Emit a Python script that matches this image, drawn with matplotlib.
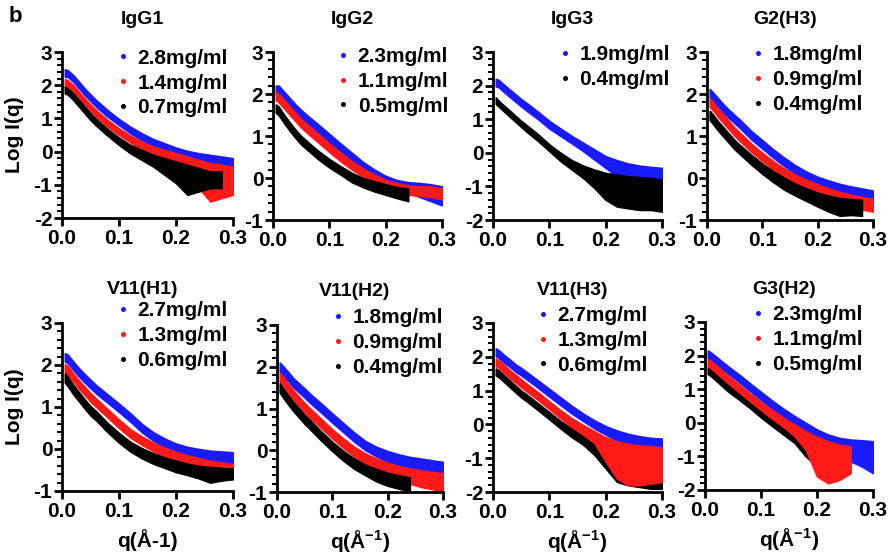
import numpy as np
import matplotlib
matplotlib.use('Agg')
import matplotlib.pyplot as plt
from matplotlib.ticker import MultipleLocator, AutoMinorLocator, FormatStrFormatter
from matplotlib.lines import Line2D

plt.rcParams['font.family'] = 'Liberation Sans'
plt.rcParams['font.weight'] = 'bold'
plt.rcParams['axes.unicode_minus'] = False
plt.rcParams['mathtext.fontset'] = 'custom'
plt.rcParams['mathtext.rm'] = 'Liberation Sans:bold'
plt.rcParams['mathtext.it'] = 'Liberation Sans:bold'
plt.rcParams['mathtext.bf'] = 'Liberation Sans:bold'

q = [0.005, 0.01, 0.02, 0.03, 0.04, 0.05, 0.06, 0.08, 0.10, 0.12,
     0.14, 0.16, 0.18, 0.20, 0.22, 0.24, 0.26, 0.28, 0.30]
nan = np.nan

titles = ['IgG1', 'IgG2', 'IgG3', 'G2(H3)', 'V11(H1)', 'V11(H2)', 'V11(H3)', 'G3(H2)']
conc_labels = [
    ['2.8mg/ml', '1.4mg/ml', '0.7mg/ml'],
    ['2.3mg/ml', '1.1mg/ml', '0.5mg/ml'],
    ['1.9mg/ml', '0.4mg/ml'],
    ['1.8mg/ml', '0.9mg/ml', '0.4mg/ml'],
    ['2.7mg/ml', '1.3mg/ml', '0.6mg/ml'],
    ['1.8mg/ml', '0.9mg/ml', '0.4mg/ml'],
    ['2.7mg/ml', '1.3mg/ml', '0.6mg/ml'],
    ['2.3mg/ml', '1.1mg/ml', '0.5mg/ml'],
]
y_bottoms = [-2, -1, -2, -1, -1, -1, -2, -2]

# log I(q): upper / lower edges of the dense part of each noisy trace
igg1_blue_hi = [2.48, 2.45, 2.3, 2.1, 1.9, 1.72, 1.55, 1.25, 0.98, 0.75, 0.55, 0.38, 0.25, 0.12, 0.02, -0.05, -0.1, -0.15, -0.2]
igg1_blue_lo = [2.25, 2.25, 2.1, 1.9, 1.7, 1.52, 1.35, 1.05, 0.8, 0.55, 0.35, 0.15, 0.0, -0.15, -0.3, -0.5, -0.7, -0.9, -1.1]
igg1_red_hi = [2.18, 2.15, 2.0, 1.8, 1.6, 1.42, 1.25, 0.95, 0.7, 0.48, 0.3, 0.15, 0.05, -0.05, -0.15, -0.25, -0.35, -0.4, -0.45]
igg1_red_lo = [1.95, 1.95, 1.8, 1.6, 1.4, 1.22, 1.05, 0.75, 0.5, 0.28, 0.05, -0.15, -0.35, -0.55, -0.8, -1.1, -1.5, -1.4, -1.3]
igg1_black_hi = [1.95, 1.9, 1.75, 1.55, 1.35, 1.15, 0.98, 0.68, 0.42, 0.2, 0.05, -0.1, -0.2, -0.3, -0.4, -0.5, -0.6, -0.6, nan]
igg1_black_lo = [1.75, 1.72, 1.55, 1.35, 1.15, 0.95, 0.78, 0.48, 0.2, -0.05, -0.25, -0.45, -0.7, -0.95, -1.3, -1.2, -1.1, -1.1, nan]

igg2_blue_hi = [2.2, 2.2, 2.05, 1.9, 1.75, 1.62, 1.5, 1.28, 1.05, 0.82, 0.6, 0.38, 0.2, 0.05, -0.05, -0.1, -0.12, -0.15, -0.2]
igg2_blue_lo = [2.0, 2.0, 1.85, 1.7, 1.55, 1.42, 1.3, 1.08, 0.85, 0.62, 0.4, 0.2, 0.02, -0.12, -0.25, -0.35, -0.45, -0.55, -0.65]
igg2_red_hi = [2.05, 2.0, 1.85, 1.7, 1.55, 1.4, 1.28, 1.05, 0.82, 0.6, 0.4, 0.22, 0.08, -0.05, -0.12, -0.18, -0.2, -0.2, -0.25]
igg2_red_lo = [1.85, 1.8, 1.65, 1.5, 1.35, 1.2, 1.08, 0.85, 0.62, 0.4, 0.2, 0.03, -0.12, -0.25, -0.33, -0.4, -0.42, -0.45, -0.5]
igg2_black_hi = [1.75, 1.7, 1.5, 1.32, 1.15, 1.0, 0.88, 0.65, 0.45, 0.28, 0.12, 0.0, -0.08, -0.15, -0.22, -0.25, nan, nan, nan]
igg2_black_lo = [1.55, 1.5, 1.3, 1.12, 0.95, 0.8, 0.68, 0.45, 0.25, 0.08, -0.1, -0.22, -0.32, -0.4, -0.48, -0.55, nan, nan, nan]

igg3_blue_hi = [2.2, 2.17, 2.02, 1.88, 1.74, 1.6, 1.48, 1.22, 0.95, 0.72, 0.5, 0.3, 0.1, -0.1, -0.22, -0.32, -0.38, -0.42, -0.45]
igg3_blue_lo = [1.98, 1.95, 1.8, 1.66, 1.52, 1.38, 1.25, 1.0, 0.72, 0.5, 0.28, 0.05, -0.2, -0.45, -0.7, -0.9, -1.05, -1.15, -1.25]
igg3_black_hi = [1.65, 1.55, 1.4, 1.25, 1.1, 0.95, 0.82, 0.55, 0.25, 0.0, -0.22, -0.38, -0.5, -0.6, -0.65, -0.7, -0.72, -0.75, -0.8]
igg3_black_lo = [1.45, 1.38, 1.22, 1.07, 0.92, 0.77, 0.62, 0.35, 0.05, -0.25, -0.5, -0.75, -1.05, -1.4, -1.6, -1.65, -1.7, -1.7, -1.75]

g2h3_blue_hi = [2.12, 2.05, 1.9, 1.75, 1.62, 1.5, 1.38, 1.12, 0.9, 0.68, 0.48, 0.3, 0.15, 0.03, -0.06, -0.14, -0.2, -0.25, -0.3]
g2h3_blue_lo = [1.92, 1.85, 1.7, 1.55, 1.42, 1.3, 1.18, 0.92, 0.7, 0.48, 0.28, 0.1, -0.05, -0.17, -0.28, -0.38, -0.45, -0.5, -0.58]
g2h3_red_hi = [1.9, 1.82, 1.65, 1.5, 1.35, 1.2, 1.07, 0.82, 0.6, 0.4, 0.22, 0.08, -0.05, -0.15, -0.25, -0.33, -0.4, -0.45, -0.5]
g2h3_red_lo = [1.7, 1.62, 1.45, 1.3, 1.15, 1.0, 0.87, 0.62, 0.4, 0.2, 0.02, -0.12, -0.25, -0.37, -0.48, -0.58, -0.68, -0.75, -0.8]
g2h3_black_hi = [1.6, 1.52, 1.35, 1.2, 1.05, 0.9, 0.78, 0.55, 0.34, 0.16, 0.0, -0.14, -0.25, -0.35, -0.42, -0.48, -0.5, -0.52, nan]
g2h3_black_lo = [1.38, 1.3, 1.13, 0.98, 0.83, 0.68, 0.56, 0.32, 0.1, -0.1, -0.28, -0.42, -0.55, -0.68, -0.8, -0.9, -0.88, -0.9, nan]

v11h1_blue_hi = [2.28, 2.25, 2.08, 1.92, 1.78, 1.65, 1.52, 1.3, 1.08, 0.85, 0.6, 0.4, 0.25, 0.13, 0.05, 0.0, -0.04, -0.06, -0.08]
v11h1_blue_lo = [2.08, 2.05, 1.88, 1.72, 1.58, 1.45, 1.32, 1.1, 0.88, 0.65, 0.4, 0.2, 0.05, -0.08, -0.17, -0.25, -0.3, -0.35, -0.42]
v11h1_red_hi = [2.02, 1.98, 1.8, 1.63, 1.48, 1.33, 1.2, 0.95, 0.7, 0.47, 0.3, 0.15, 0.03, -0.07, -0.15, -0.22, -0.28, -0.32, -0.36]
v11h1_red_lo = [1.82, 1.78, 1.6, 1.43, 1.28, 1.13, 1.0, 0.75, 0.5, 0.27, 0.1, -0.05, -0.17, -0.28, -0.38, -0.45, -0.55, -0.58, -0.62]
v11h1_black_hi = [1.8, 1.72, 1.52, 1.35, 1.18, 1.02, 0.9, 0.62, 0.38, 0.17, 0.02, -0.1, -0.2, -0.28, -0.35, -0.4, -0.43, -0.45, -0.47]
v11h1_black_lo = [1.58, 1.5, 1.3, 1.13, 0.96, 0.8, 0.68, 0.4, 0.15, -0.06, -0.22, -0.35, -0.45, -0.55, -0.62, -0.7, -0.8, -0.75, -0.72]

v11h2_blue_hi = [2.1, 2.03, 1.88, 1.72, 1.6, 1.48, 1.35, 1.12, 0.88, 0.65, 0.42, 0.22, 0.08, -0.02, -0.1, -0.16, -0.2, -0.24, -0.28]
v11h2_blue_lo = [1.88, 1.82, 1.66, 1.5, 1.38, 1.26, 1.13, 0.9, 0.66, 0.43, 0.2, 0.0, -0.15, -0.28, -0.38, -0.48, -0.58, -0.65, -0.78]
v11h2_red_hi = [1.85, 1.78, 1.6, 1.43, 1.28, 1.13, 1.0, 0.75, 0.5, 0.28, 0.08, -0.08, -0.2, -0.3, -0.38, -0.44, -0.48, -0.52, -0.55]
v11h2_red_lo = [1.62, 1.55, 1.38, 1.21, 1.06, 0.91, 0.78, 0.53, 0.28, 0.05, -0.15, -0.32, -0.45, -0.58, -0.7, -0.8, -0.88, -0.93, -0.98]
v11h2_black_hi = [1.6, 1.5, 1.32, 1.15, 1.0, 0.85, 0.72, 0.45, 0.2, -0.02, -0.2, -0.35, -0.45, -0.54, -0.6, -0.65, nan, nan, nan]
v11h2_black_lo = [1.38, 1.28, 1.1, 0.93, 0.78, 0.63, 0.5, 0.23, -0.02, -0.25, -0.45, -0.6, -0.75, -0.85, -0.92, -0.98, nan, nan, nan]

v11h3_blue_hi = [2.25, 2.2, 2.05, 1.92, 1.78, 1.67, 1.55, 1.3, 1.05, 0.8, 0.55, 0.32, 0.12, -0.05, -0.18, -0.28, -0.35, -0.4, -0.42]
v11h3_blue_lo = [2.02, 1.97, 1.82, 1.7, 1.56, 1.45, 1.33, 1.08, 0.82, 0.57, 0.32, 0.1, -0.12, -0.3, -0.48, -0.62, -0.75, -0.85, -0.9]
v11h3_red_hi = [1.95, 1.9, 1.75, 1.6, 1.47, 1.33, 1.2, 0.95, 0.68, 0.42, 0.18, -0.02, -0.2, -0.38, -0.5, -0.58, -0.62, -0.65, -0.68]
v11h3_red_lo = [1.72, 1.67, 1.52, 1.37, 1.24, 1.1, 0.97, 0.72, 0.45, 0.18, -0.08, -0.3, -0.55, -1.1, -1.6, -1.8, -1.8, -1.75, -1.7]
v11h3_black_hi = [1.65, 1.6, 1.45, 1.3, 1.15, 1.0, 0.88, 0.62, 0.36, 0.1, -0.12, -0.32, -0.5, -0.7, -0.8, -0.88, -0.92, -0.95, -1.0]
v11h3_black_lo = [1.45, 1.4, 1.25, 1.1, 0.95, 0.8, 0.68, 0.42, 0.15, -0.12, -0.38, -0.6, -0.9, -1.3, -1.7, -1.8, -1.85, -1.9, -1.9]

g3h2_blue_hi = [2.15, 2.1, 1.97, 1.83, 1.7, 1.57, 1.45, 1.18, 0.92, 0.66, 0.42, 0.2, 0.0, -0.2, -0.35, -0.45, -0.5, -0.52, -0.55]
g3h2_blue_lo = [1.93, 1.88, 1.75, 1.61, 1.48, 1.35, 1.22, 0.95, 0.68, 0.42, 0.18, -0.05, -0.3, -0.55, -0.8, -1.0, -1.15, -1.3, -1.5]
g3h2_red_hi = [1.9, 1.85, 1.7, 1.56, 1.42, 1.28, 1.15, 0.88, 0.62, 0.38, 0.15, -0.05, -0.25, -0.42, -0.55, -0.65, -0.7, nan, nan]
g3h2_red_lo = [1.68, 1.63, 1.48, 1.34, 1.2, 1.06, 0.92, 0.65, 0.38, 0.12, -0.12, -0.4, -0.8, -1.6, -1.8, -1.7, -1.5, nan, nan]
g3h2_black_hi = [1.65, 1.6, 1.45, 1.3, 1.15, 1.02, 0.9, 0.64, 0.38, 0.12, -0.1, -0.3, -0.45, -0.6, nan, nan, nan, nan, nan]
g3h2_black_lo = [1.45, 1.4, 1.25, 1.1, 0.95, 0.82, 0.7, 0.44, 0.16, -0.1, -0.35, -0.6, -1.0, -1.3, nan, nan, nan, nan, nan]

BLUE, RED, BLACK = '#1a1aff', '#ff1a1a', '#000000'

# drawing order per panel (last one on top)
panels = [
    [(igg1_blue_lo, igg1_blue_hi, BLUE), (igg1_red_lo, igg1_red_hi, RED), (igg1_black_lo, igg1_black_hi, BLACK)],
    [(igg2_blue_lo, igg2_blue_hi, BLUE), (igg2_red_lo, igg2_red_hi, RED), (igg2_black_lo, igg2_black_hi, BLACK)],
    [(igg3_blue_lo, igg3_blue_hi, BLUE), (igg3_black_lo, igg3_black_hi, BLACK)],
    [(g2h3_blue_lo, g2h3_blue_hi, BLUE), (g2h3_red_lo, g2h3_red_hi, RED), (g2h3_black_lo, g2h3_black_hi, BLACK)],
    [(v11h1_blue_lo, v11h1_blue_hi, BLUE), (v11h1_red_lo, v11h1_red_hi, RED), (v11h1_black_lo, v11h1_black_hi, BLACK)],
    [(v11h2_blue_lo, v11h2_blue_hi, BLUE), (v11h2_red_lo, v11h2_red_hi, RED), (v11h2_black_lo, v11h2_black_hi, BLACK)],
    [(v11h3_blue_lo, v11h3_blue_hi, BLUE), (v11h3_black_lo, v11h3_black_hi, BLACK), (v11h3_red_lo, v11h3_red_hi, RED)],
    [(g3h2_blue_lo, g3h2_blue_hi, BLUE), (g3h2_black_lo, g3h2_black_hi, BLACK), (g3h2_red_lo, g3h2_red_hi, RED)],
]

# axes rectangles in pixels (left, right, top, bottom) of the 893x556 canvas
W, H = 893, 556
boxes = [(62, 233, 52, 218), (273, 442, 52, 220), (493, 662, 52, 220), (707, 873, 52, 220),
         (62, 233, 323, 491), (277, 443, 325, 492), (493, 662, 323, 492), (705, 873, 322, 490)]
legend_anchor = [(0.33, 1.02), (0.39, 1.03), (0.40, 1.04), (0.28, 1.04),
                 (0.33, 1.13), (0.34, 1.10), (0.27, 1.10), (0.29, 1.10)]

fig = plt.figure(figsize=(W / 100, H / 100), dpi=100)

for i, (title, curves) in enumerate(zip(titles, panels)):
    l, r, t, b = boxes[i]
    ax = fig.add_axes([l / W, 1 - b / H, (r - l) / W, (b - t) / H])
    for lo, hi, c in curves:
        ax.fill_between(q, lo, hi, color=c, lw=1.2, edgecolor=c)
    colors = [c for c in [BLUE, RED, BLACK] if c in [cv[2] for cv in curves]]
    handles = [Line2D([], [], marker='o', ls='', color=c, markersize=2.6) for c in colors]
    ax.set_xlim(0, 0.3)
    ax.set_ylim(y_bottoms[i], 3)
    ax.xaxis.set_major_locator(MultipleLocator(0.1))
    ax.xaxis.set_major_formatter(FormatStrFormatter('%.1f'))
    ax.yaxis.set_major_locator(MultipleLocator(1))
    ax.yaxis.set_minor_locator(AutoMinorLocator(5))
    for s in ['top', 'right']:
        ax.spines[s].set_visible(False)
    for s in ['left', 'bottom']:
        ax.spines[s].set_linewidth(2)
    ax.tick_params(axis='both', which='major', length=6, width=2, labelsize=15, pad=2)
    ax.tick_params(axis='y', which='minor', length=3.5, width=1.5)
    ax.tick_params(axis='y', pad=1)
    for lab in ax.get_xticklabels() + ax.get_yticklabels():
        lab.set_fontweight('bold')
    ax.text(0.47, 1 + 33 / (b - t), title, transform=ax.transAxes, ha='center', va='center',
            fontsize=14, fontweight='bold')
    ax.legend(handles, conc_labels[i], loc='upper left', bbox_to_anchor=legend_anchor[i],
              frameon=False, handlelength=0.4, handletextpad=0.5, labelspacing=0.28,
              borderpad=0, borderaxespad=0, prop={'weight': 'bold', 'size': 15})
    if i % 4 == 0:
        ax.set_ylabel('Log I(q)', fontsize=15, fontweight='bold', va='center')
        ax.yaxis.set_label_coords(-47 / (r - l), 0.5)
    if i >= 4:
        xl = 'q(Å-1)' if i == 4 else r'q(Å$^{-1}$)'
        ax.set_xlabel(xl, fontsize=15, fontweight='bold', va='center')
        ax.xaxis.set_label_coords(0.5, -49 / (b - t))

fig.text(15 / W, 1 - 16 / H, 'b', fontsize=16, fontweight='bold', ha='center', va='center')

fig.savefig('out.png', dpi=100)
